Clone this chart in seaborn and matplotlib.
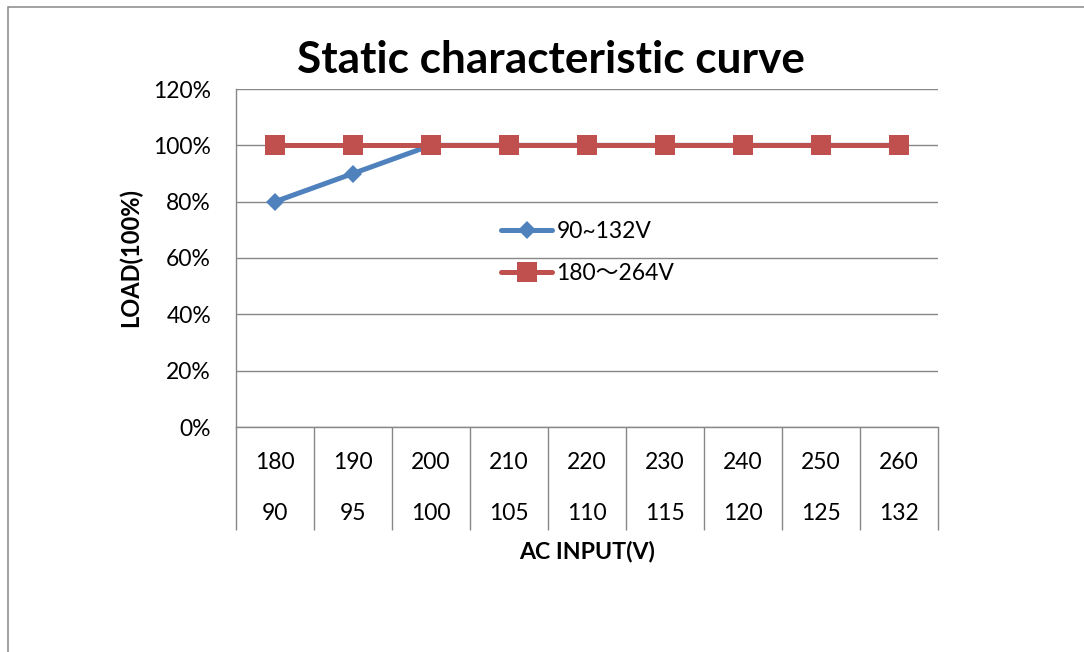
import numpy as np
import pandas as pd
import matplotlib.pyplot as plt
import seaborn as sns
from matplotlib.patches import Rectangle

sns.set_style("white")
plt.rcParams['font.family'] = ['Lato', 'Noto Sans CJK SC', 'DejaVu Sans']
plt.rcParams['text.color'] = 'black'
plt.rcParams['ytick.color'] = 'black'
plt.rcParams['xtick.color'] = 'black'

# data
volt_high = ["180", "190", "200", "210", "220", "230", "240", "250", "260"]
volt_low = ["90", "95", "100", "105", "110", "115", "120", "125", "132"]
load_low = [0.80, 0.90, 1.00, 1.00, 1.00, 1.00, 1.00, 1.00, 1.00]
load_high = [1.00, 1.00, 1.00, 1.00, 1.00, 1.00, 1.00, 1.00, 1.00]
label_low = "90~132V"
label_high = "180～264V"

df = pd.DataFrame({
    "pos": np.arange(len(volt_high)),
    "low": load_low,
    "high": load_high,
})

grid_c = "#878787"
blue = "#4F81BD"
red = "#C0504D"

fig = plt.figure(figsize=(10.84, 6.52), dpi=100)
ax = fig.add_axes([236 / 1084, 1 - 427 / 652, 702 / 1084, 338 / 652])

sns.lineplot(data=df, x="pos", y="low", ax=ax, color=blue, lw=3.6,
             marker="D", markersize=9.5, markeredgewidth=0, label=label_low)
sns.lineplot(data=df, x="pos", y="high", ax=ax, color=red, lw=3.6,
             marker="s", markersize=14, markeredgewidth=0, label=label_high)

ax.set_xlim(-0.5, len(volt_high) - 0.5)
ax.set_ylim(0, 1.2)
ax.set_yticks(np.arange(0, 1.21, 0.2))
ax.set_yticklabels([f"{int(round(v * 100))}%" for v in np.arange(0, 1.21, 0.2)])
ax.grid(axis="y", color=grid_c, lw=1.0)
ax.set_xlabel("")
ax.set_ylabel("")

for s in ["top", "right"]:
    ax.spines[s].set_visible(False)
for s in ["left", "bottom"]:
    ax.spines[s].set_color(grid_c)
    ax.spines[s].set_linewidth(1.0)

# two-row category axis
ax.set_xticks([])
ax.set_xticks(np.arange(-0.5, len(volt_high)), minor=True)
ax.tick_params(axis="x", which="minor", bottom=True, length=74, width=1.0,
               color=grid_c, direction="out")
ax.tick_params(axis="y", length=0, pad=18, labelsize=16.5, labelcolor="black")
tr = ax.get_xaxis_transform()
for i, (a, b) in enumerate(zip(volt_high, volt_low)):
    ax.text(i, -0.104, a, transform=tr, ha="center", va="center", fontsize=16.5)
    ax.text(i, -0.257, b, transform=tr, ha="center", va="center", fontsize=16.5)

leg = ax.legend(loc="upper left", bbox_to_anchor=(0.365, 0.636), frameon=False,
                fontsize=16.5, handlelength=2.2, handletextpad=0.2,
                labelspacing=0.9, borderaxespad=0)

fig.text(551 / 1084, 1 - 60 / 652, "Static characteristic curve",
         ha="center", va="center", fontsize=31.8, fontweight="bold")
fig.text(587 / 1084, 1 - 552 / 652, "AC INPUT(V)", ha="center", va="center",
         fontsize=16.7, fontweight="bold")
fig.text(130 / 1084, 1 - 258 / 652, "LOAD(100%)", ha="center", va="center",
         rotation=90, fontsize=17, fontweight="bold")

# outer chart border
fig.add_artist(Rectangle((8 / 1084, -0.1), 1.2, 1.1 - 7 / 652,
                         transform=fig.transFigure, fill=False,
                         edgecolor=grid_c, lw=1.1))

fig.savefig("out.png", dpi=100)
